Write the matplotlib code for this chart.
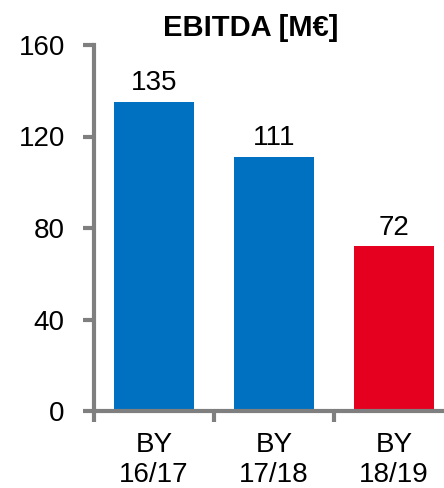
import matplotlib
matplotlib.use('Agg')
from matplotlib import pyplot as plt

plt.rcParams['font.family'] = ['Liberation Sans', 'DejaVu Sans']

categories = ['BY\n16/17', 'BY\n17/18', 'BY\n18/19']
ebitda = [135, 111, 72]
bar_colors = ['#0070C0', '#0070C0', '#E60020']
yticks = [0, 40, 80, 120, 160]

fig = plt.figure(figsize=(4.44, 4.88), dpi=100)
ax = fig.add_axes([94 / 444, 77 / 488, 360 / 444, 366 / 488])

x = list(range(len(categories)))
ax.bar(x, ebitda, width=0.67, color=bar_colors, zorder=2)
for xi, v in zip(x, ebitda):
    ax.text(xi, v + 2.5, str(v), ha='center', va='bottom', fontsize=20)

ax.set_xlim(-0.5, 2.5)
ax.set_ylim(0, 160)
ax.set_yticks(yticks)
ax.set_xticks(x)
ax.set_xticklabels(categories, linespacing=1.2)
ax.set_xticks([-0.5, 0.5, 1.5, 2.5], minor=True)

gray = '#7F7F7F'
for s in ['top', 'right']:
    ax.spines[s].set_visible(False)
for s in ['left', 'bottom']:
    ax.spines[s].set_color(gray)
    ax.spines[s].set_linewidth(3)

ax.tick_params(axis='y', length=8, width=3, color=gray, labelsize=20, pad=13)
ax.tick_params(axis='x', which='major', length=0, labelsize=20, pad=15)
ax.tick_params(axis='x', which='minor', length=8, width=3, color=gray)

fig.text(251 / 444, 1 - 28 / 488, 'EBITDA [M€]', ha='center', va='center',
         fontsize=21, fontweight='bold')

plt.savefig('out.png', dpi=100)
